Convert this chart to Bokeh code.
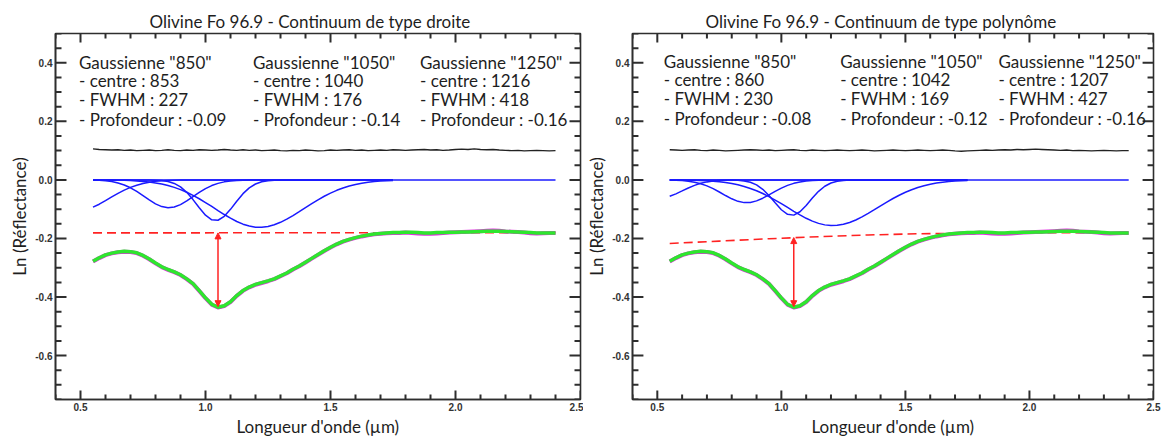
from bokeh.plotting import figure
from bokeh.layouts import row
from bokeh.models import (SingleIntervalTicker, PrintfTickFormatter,
                          Arrow, NormalHead, Range1d, ColumnDataSource)
from bokeh.core.properties import value
from bokeh.embed import file_html
from bokeh.resources import INLINE

# ---------------- data ----------------
titles = ["Olivine Fo 96.9 - Continuum de type droite",
          "Olivine Fo 96.9 - Continuum de type polynôme"]
x_label = "Longueur d'onde (µm)"
y_label = "Ln (Réflectance)"

# axis ticks
x_major_ticks = [0.5, 1.0, 1.5, 2.0, 2.5]
x_minor_ticks = [0.4, 0.6, 0.7, 0.8, 0.9, 1.1, 1.2, 1.3, 1.4, 1.6, 1.7, 1.8, 1.9, 2.1, 2.2, 2.3, 2.4]
y_major_ticks = [-0.6, -0.4, -0.2, 0.0, 0.2, 0.4]
y_minor_ticks = [-0.75, -0.7, -0.65, -0.55, -0.5, -0.45, -0.35, -0.3, -0.25, -0.15, -0.1, -0.05,
                 0.05, 0.1, 0.15, 0.25, 0.3, 0.35, 0.45, 0.5]

# wavelength grid (µm) of the spectrum and residual
wl = [round(0.55 + 0.025 * i, 3) for i in range(75)]
spectrum = [-0.278, -0.266, -0.256, -0.250, -0.246, -0.244, -0.245, -0.249, -0.258, -0.270,
            -0.284, -0.297, -0.306, -0.314, -0.324, -0.338, -0.354, -0.378, -0.403, -0.425,
            -0.435, -0.430, -0.416, -0.395, -0.378, -0.366, -0.357, -0.351, -0.345, -0.338,
            -0.328, -0.318, -0.305, -0.294, -0.281, -0.268, -0.255, -0.242, -0.230, -0.219,
            -0.210, -0.203, -0.197, -0.192, -0.188, -0.185, -0.183, -0.181, -0.180, -0.180,
            -0.179, -0.179, -0.180, -0.181, -0.181, -0.180, -0.180, -0.179, -0.179, -0.178,
            -0.178, -0.177, -0.176, -0.175, -0.175, -0.175, -0.176, -0.177, -0.178, -0.179,
            -0.180, -0.181, -0.181, -0.181, -0.181]
model = [-0.279, -0.267, -0.257, -0.251, -0.247, -0.245, -0.246, -0.250, -0.259, -0.271,
         -0.285, -0.298, -0.307, -0.315, -0.325, -0.339, -0.355, -0.379, -0.404, -0.426,
         -0.436, -0.431, -0.417, -0.396, -0.379, -0.367, -0.358, -0.352, -0.346, -0.339,
         -0.329, -0.319, -0.306, -0.295, -0.282, -0.269, -0.256, -0.243, -0.231, -0.220,
         -0.211, -0.204, -0.198, -0.193, -0.189, -0.186, -0.184, -0.182, -0.181, -0.181,
         -0.180, -0.181, -0.183, -0.184, -0.184, -0.183, -0.181, -0.180, -0.179, -0.178,
         -0.177, -0.176, -0.175, -0.174, -0.173, -0.174, -0.176, -0.177, -0.178, -0.180,
         -0.182, -0.183, -0.182, -0.181, -0.181]

# residual (offset by +0.1)
residual_left = [0.106, 0.104, 0.103, 0.102, 0.103, 0.101, 0.102, 0.100, 0.101, 0.102,
                 0.100, 0.101, 0.103, 0.101, 0.100, 0.102, 0.101, 0.103, 0.102, 0.101,
                 0.102, 0.104, 0.102, 0.101, 0.103, 0.101, 0.102, 0.100, 0.101, 0.102,
                 0.100, 0.099, 0.101, 0.100, 0.102, 0.101, 0.099, 0.100, 0.102, 0.101,
                 0.102, 0.103, 0.101, 0.102, 0.100, 0.101, 0.102, 0.101, 0.103, 0.102,
                 0.101, 0.102, 0.103, 0.104, 0.102, 0.103, 0.101, 0.102, 0.104, 0.105,
                 0.104, 0.106, 0.104, 0.103, 0.104, 0.102, 0.101, 0.100, 0.101, 0.099,
                 0.100, 0.101, 0.100, 0.099, 0.100]
residual_right = [0.103, 0.102, 0.101, 0.102, 0.103, 0.101, 0.100, 0.102, 0.101, 0.099,
                  0.100, 0.101, 0.102, 0.103, 0.102, 0.101, 0.102, 0.100, 0.101, 0.102,
                  0.103, 0.101, 0.100, 0.102, 0.101, 0.100, 0.101, 0.102, 0.101, 0.100,
                  0.101, 0.102, 0.101, 0.099, 0.100, 0.101, 0.102, 0.101, 0.100, 0.101,
                  0.102, 0.101, 0.100, 0.101, 0.102, 0.101, 0.099, 0.098, 0.099, 0.100,
                  0.101, 0.102, 0.101, 0.102, 0.103, 0.102, 0.104, 0.103, 0.104, 0.105,
                  0.104, 0.103, 0.102, 0.101, 0.102, 0.100, 0.101, 0.100, 0.099, 0.100,
                  0.101, 0.100, 0.099, 0.100, 0.100]

# continua
cont_left_x = [0.55, 2.40]
cont_left_y = [-0.181, -0.180]
cont_right_x = [0.55, 0.75, 0.95, 1.15, 1.35, 1.55, 1.75, 1.95, 2.15, 2.40]
cont_right_y = [-0.217, -0.209, -0.201, -0.194, -0.188, -0.184, -0.182, -0.180, -0.180, -0.181]
band_min_x = 1.05
band_min_y = -0.433
cont_at_min = [-0.181, -0.197]

# gaussians grid (µm)
wl_g = [round(0.55 + 0.025 * i, 3) for i in range(49)]
baseline_x = [0.55, 2.40]
baseline_y = [0.0, 0.0]

uv_left = [-0.093, -0.083, -0.071, -0.058, -0.046, -0.035, -0.0255, -0.018, -0.012, -0.0078,
           -0.0049, -0.0029, -0.0017, -0.0009, -0.0005, -0.0002, -0.0001] + [0.0] * 32
g850_left = [-0.0007, -0.0015, -0.0030, -0.0058, -0.0104, -0.0173, -0.0270, -0.0393, -0.0537,
             -0.0685, -0.0817, -0.0911, -0.0950, -0.0925, -0.0844, -0.0719, -0.0573, -0.0427,
             -0.0297, -0.0193, -0.0118, -0.0067, -0.0036, -0.0018, -0.0008, -0.0004,
             -0.0002] + [0.0] * 22
g1050_left = [0.0] * 8 + [-0.0001, -0.0003, -0.0008, -0.0022, -0.0055, -0.0121, -0.0240, -0.0425,
                          -0.0673, -0.0952, -0.1205, -0.1362, -0.1378, -0.1245, -0.1006, -0.0728,
                          -0.0470, -0.0271, -0.0140, -0.0065, -0.0027, -0.0010, -0.0003,
                          -0.0001] + [0.0] * 17
g1250_left = [-0.0001, -0.0002, -0.0004, -0.0006, -0.0010, -0.0016, -0.0024, -0.0035, -0.0052, -0.0074,
              -0.0104, -0.0143, -0.0193, -0.0256, -0.0332, -0.0423, -0.0527, -0.0644, -0.0773, -0.0908,
              -0.1046, -0.1182, -0.1308, -0.1421, -0.1512, -0.1577, -0.1614, -0.1618, -0.1590, -0.1533,
              -0.1448, -0.1342, -0.1218, -0.1085, -0.0947, -0.0810, -0.0679, -0.0558, -0.0450, -0.0356,
              -0.0276, -0.0209, -0.0156, -0.0114, -0.0081, -0.0057, -0.0039, -0.0027, -0.0018]

uv_right = [-0.056, -0.0477, -0.0377, -0.0275, -0.0186, -0.0117, -0.0068, -0.0037, -0.0018,
            -0.0008, -0.0004, -0.0001] + [0.0] * 37
g850_right = [-0.0005, -0.0011, -0.0023, -0.0043, -0.0077, -0.0130, -0.0204, -0.0300, -0.0414,
              -0.0534, -0.0646, -0.0732, -0.0776, -0.0771, -0.0717, -0.0625, -0.0510, -0.0390,
              -0.0280, -0.0187, -0.0118, -0.0069, -0.0038, -0.0020, -0.0010, -0.0004,
              -0.0002] + [0.0] * 22
g1050_right = [0.0] * 9 + [-0.0001, -0.0004, -0.0013, -0.0034, -0.0081, -0.0171, -0.0321, -0.0533,
                           -0.0783, -0.1020, -0.1176, -0.1203, -0.1088, -0.0873, -0.0620, -0.0390,
                           -0.0218, -0.0107, -0.0047, -0.0018, -0.0006, -0.0002] + [0.0] * 18
g1250_right = [-0.0002, -0.0004, -0.0006, -0.0009, -0.0014, -0.0021, -0.0031, -0.0046, -0.0065, -0.0091,
               -0.0126, -0.0169, -0.0224, -0.0292, -0.0372, -0.0465, -0.0571, -0.0688, -0.0813, -0.0942,
               -0.1072, -0.1197, -0.1311, -0.1409, -0.1485, -0.1536, -0.1559, -0.1552, -0.1517, -0.1454,
               -0.1368, -0.1262, -0.1143, -0.1015, -0.0885, -0.0758, -0.0635, -0.0523, -0.0423, -0.0335,
               -0.0260, -0.0199, -0.0149, -0.0109, -0.0079, -0.0056, -0.0039, -0.0026, -0.0018]

band_names = ['Gaussienne "850"', 'Gaussienne "1050"', 'Gaussienne "1250"']
centres_left = [853, 1040, 1216]
fwhm_left = [227, 176, 418]
depth_left = ["-0.09", "-0.14", "-0.16"]
centres_right = [860, 1042, 1207]
fwhm_right = [230, 169, 427]
depth_right = ["-0.08", "-0.12", "-0.16"]

# ---------------- styling ----------------
FONT = "Lato"
TXT = "#1e1e1e"
BLUE = "#1a1aff"
RED = "#ff2222"
GREEN = "#2ee62e"
MAGENTA = "#e030e0"
FRAME = "#2e2e2e"
X0, X1, Y0, Y1 = 0.4, 2.5, -0.75, 0.5
FRAME_W, FRAME_H = 525.0, 368.0          # frame size in px, for tick lengths


def add_ticks(p):
    # tick marks pointing inward on all four sides (lengths in px -> data units)
    dx = (X1 - X0) / FRAME_W
    dy = (Y1 - Y0) / FRAME_H
    for ticks, ln in ((x_major_ticks, 9), (x_minor_ticks, 5)):
        n = len(ticks)
        p.segment(x0=ticks, y0=[Y0] * n, x1=ticks, y1=[Y0 + ln * dy] * n,
                  line_color=FRAME, line_width=2)
        p.segment(x0=ticks, y0=[Y1] * n, x1=ticks, y1=[Y1 - ln * dy] * n,
                  line_color=FRAME, line_width=2)
    for ticks, ln in ((y_major_ticks, 11), (y_minor_ticks, 6)):
        n = len(ticks)
        p.segment(x0=[X0] * n, y0=ticks, x1=[X0 + ln * dx] * n, y1=ticks,
                  line_color=FRAME, line_width=2)
        p.segment(x0=[X1] * n, y0=ticks, x1=[X1 - ln * dx] * n, y1=ticks,
                  line_color=FRAME, line_width=2)


def style_axis(ax):
    ax.major_tick_in = 0
    ax.major_tick_out = 0
    ax.minor_tick_in = 0
    ax.minor_tick_out = 0
    ax.axis_line_color = FRAME
    ax.axis_line_width = 1.6
    ax.major_label_text_font = "Liberation Sans"
    ax.major_label_text_font_style = "bold"
    ax.major_label_text_font_size = "10px"
    ax.major_label_text_color = "#333333"
    ax.major_label_standoff = 3
    ax.axis_label_text_font = FONT
    ax.axis_label_text_font_style = "normal"
    ax.axis_label_text_font_size = "17px"
    ax.axis_label_text_color = TXT


def make_panel(title, title_offset, min_left, min_right, resid, cont_x, cont_y, cont_min,
               curves, centres, fwhm, depth, col_x, line_y):
    p = figure(width=583, height=439, x_range=Range1d(X0, X1), y_range=Range1d(Y0, Y1),
               output_backend="svg", toolbar_location=None,
               min_border_left=min_left, min_border_right=min_right,
               min_border_top=33, min_border_bottom=38)
    p.title.text = title
    p.title.text_font = FONT
    p.title.text_font_size = "17px"
    p.title.text_font_style = "normal"
    p.title.text_color = TXT
    p.title.align = "left"
    p.title.offset = title_offset
    p.title.standoff = 4
    p.xgrid.visible = False
    p.ygrid.visible = False
    p.outline_line_color = FRAME
    p.outline_line_width = 1.6
    p.background_fill_color = None
    p.border_fill_color = "#ffffff"

    p.xaxis.ticker = SingleIntervalTicker(interval=0.5, num_minor_ticks=5)
    p.yaxis.ticker = SingleIntervalTicker(interval=0.2, num_minor_ticks=4)
    p.xaxis.formatter = PrintfTickFormatter(format="%.1f")
    p.yaxis.formatter = PrintfTickFormatter(format="%.1f")
    p.xaxis.axis_label = x_label
    p.yaxis.axis_label = y_label
    style_axis(p.xaxis[0])
    style_axis(p.yaxis[0])
    p.xaxis.axis_label_standoff = 2
    p.yaxis.axis_label_standoff = 2

    add_ticks(p)

    # residual (offset)
    p.line(wl, resid, line_color="#222222", line_width=1.4)
    # gaussians
    p.line(baseline_x, baseline_y, line_color=BLUE, line_width=1.5)
    for c in curves:
        p.line(wl_g, c, line_color=BLUE, line_width=1.5)
    # continuum
    p.line(cont_x, cont_y, line_color=RED, line_width=1.6, line_dash="9 5")
    # spectrum and model
    p.line(wl, model, line_color=MAGENTA, line_width=4.0, line_join="round")
    p.line(wl, spectrum, line_color=GREEN, line_width=3.5, line_join="round")
    # band depth arrow
    p.add_layout(Arrow(start=NormalHead(size=6, fill_color=RED, line_color=RED, line_width=1),
                       end=NormalHead(size=6, fill_color=RED, line_color=RED, line_width=1),
                       x_start=band_min_x, y_start=cont_min, x_end=band_min_x, y_end=band_min_y,
                       line_color=RED, line_width=1.5))

    # annotation text
    xs, ys, ts = [], [], []
    for i in range(3):
        lines = [band_names[i], "- centre : %d" % centres[i], "- FWHM : %d" % fwhm[i],
                 "- Profondeur : %s" % depth[i]]
        for j, t in enumerate(lines):
            xs.append(col_x[i])
            ys.append(line_y[j])
            ts.append(t)
    src = ColumnDataSource(dict(x=xs, y=ys, text=ts))
    p.text(x="x", y="y", text="text", source=src, text_font=value(FONT), text_font_size="17px",
           text_color=TXT, text_baseline="middle", text_align="left")
    return p


p1 = make_panel(titles[0], 94, 55, 3, residual_left, cont_left_x, cont_left_y, cont_at_min[0],
                [uv_left, g850_left, g1050_left, g1250_left], centres_left, fwhm_left, depth_left,
                [0.494, 1.19, 1.858], [0.401, 0.339, 0.274, 0.207])
p2 = make_panel(titles[1], 73, 45, 13, residual_right, cont_right_x, cont_right_y, cont_at_min[1],
                [uv_right, g850_right, g1050_right, g1250_right], centres_right, fwhm_right, depth_right,
                [0.526, 1.237, 1.875], [0.405, 0.343, 0.277, 0.210])

layout = row(p1, p2)
open("out.html", "w").write(file_html(layout, INLINE))
